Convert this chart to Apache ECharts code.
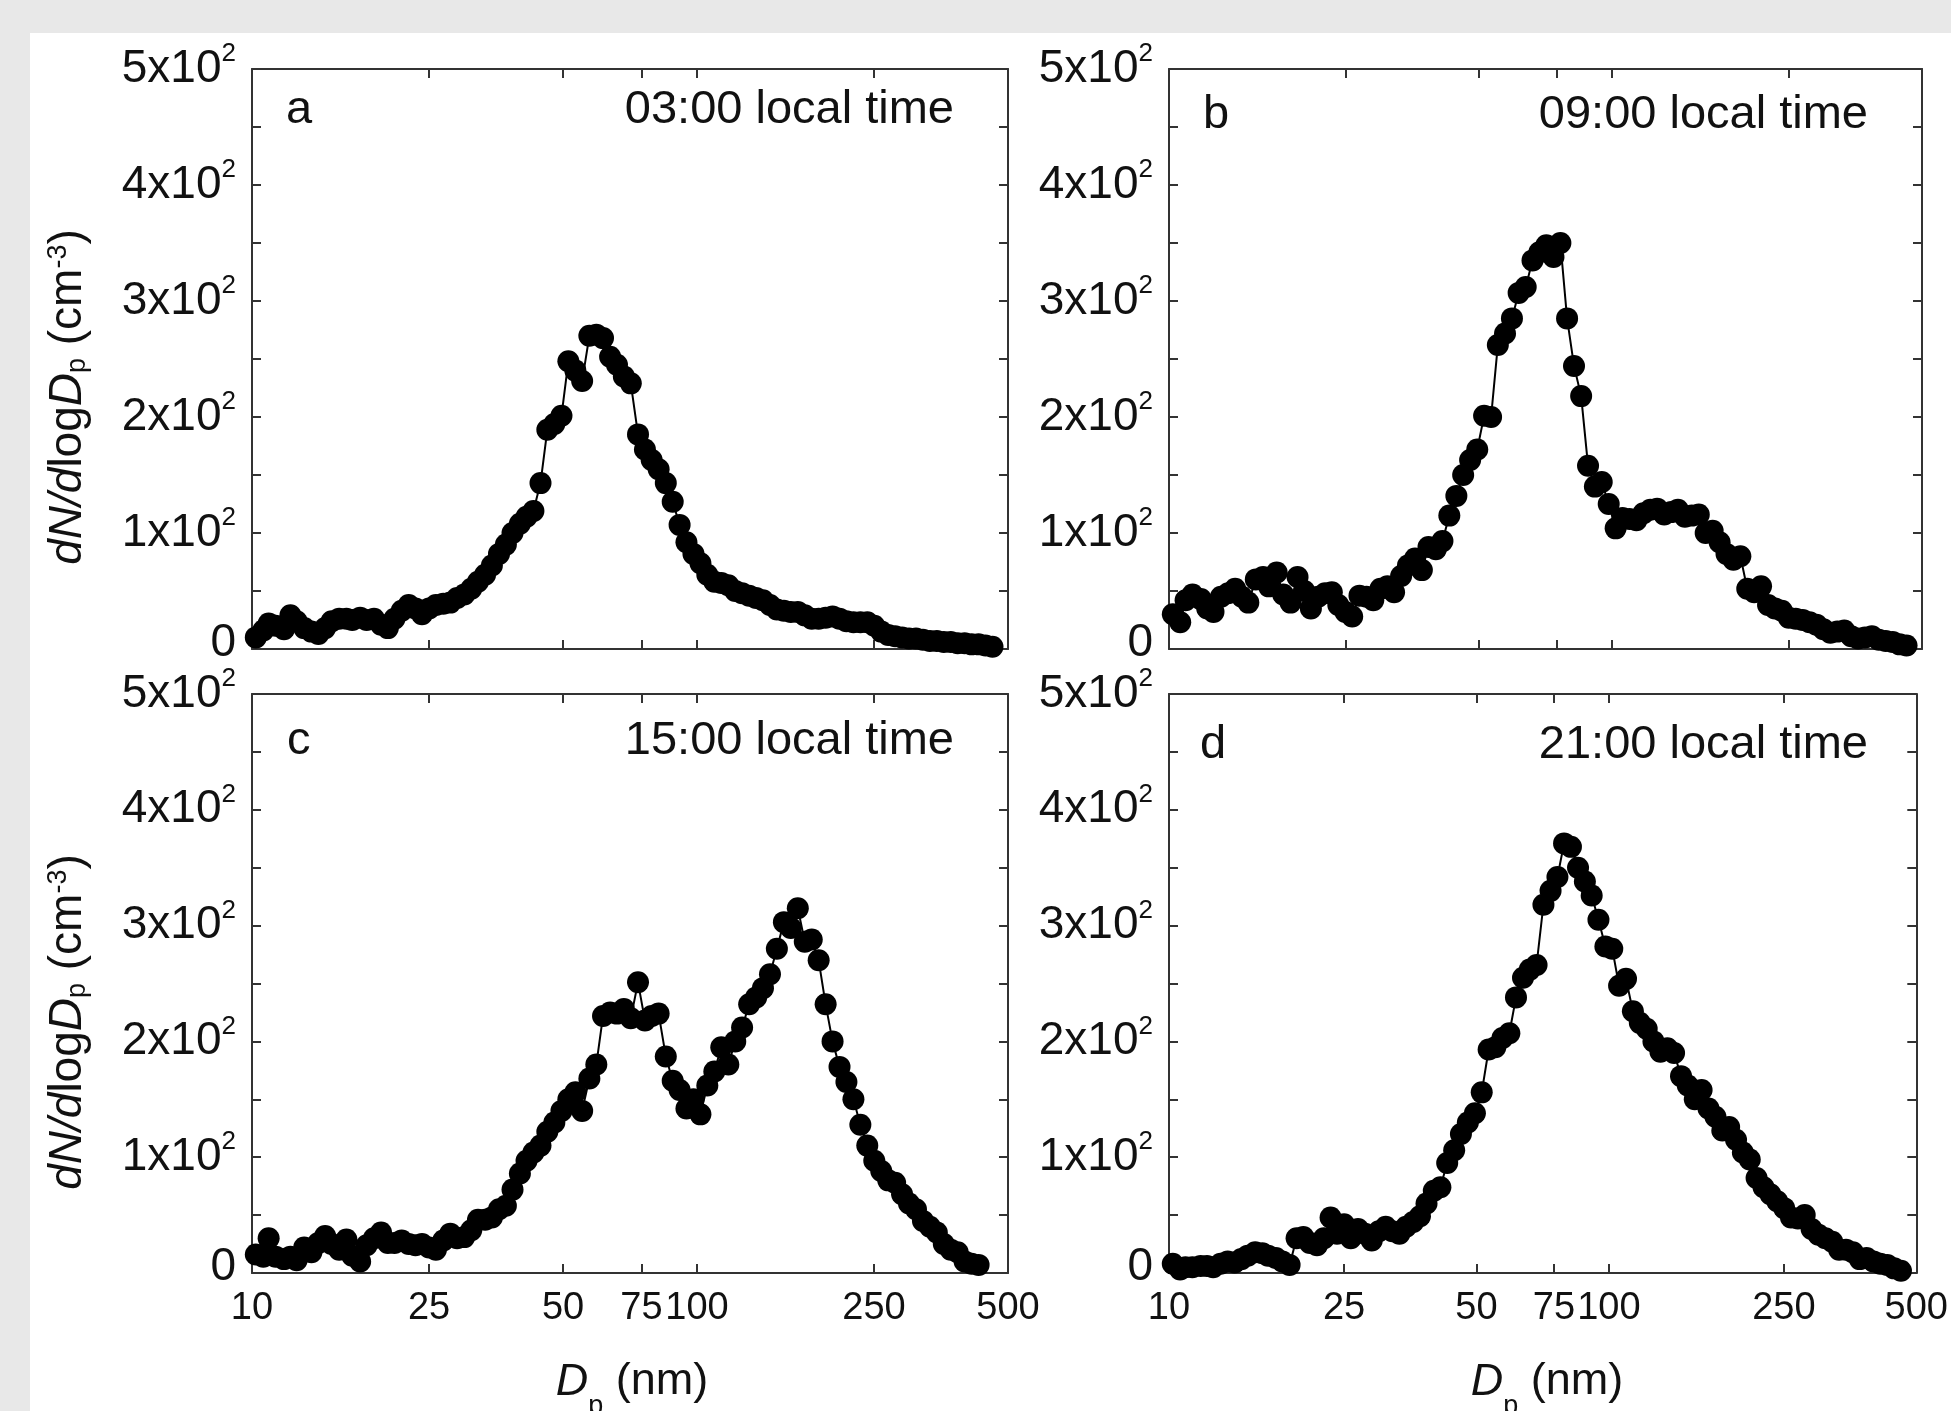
<!DOCTYPE html>
<html><head><meta charset="utf-8">
<script src="https://cdn.jsdelivr.net/npm/echarts@6/dist/echarts.min.js"></script>
<style>
html,body{margin:0;padding:0;background:#e8e8e8;width:1951px;height:1411px;overflow:hidden}
#c{position:absolute;left:30px;top:33px;width:1921px;height:1378px;background:#fff}
</style></head><body><div id="c"></div>
<script>
// particle mobility diameter channels (nm)
const diameterNm = [10.2,10.6,10.9,11.3,11.8,12.2,12.6,13.1,13.6,14.1,
14.6,15.1,15.7,16.3,16.8,17.5,18.1,18.8,19.5,20.2,
20.9,21.7,22.5,23.3,24.1,25.0,25.9,26.9,27.9,28.9,
30.0,31.1,32.2,33.4,34.6,35.9,37.2,38.5,40.0,41.4,
42.9,44.5,46.1,47.8,49.6,51.4,53.3,55.2,57.3,59.4,
61.5,63.8,66.1,68.5,71.0,73.7,76.4,79.1,82.0,85.1,
88.2,91.4,94.7,98.2,101.8,105.5,109.4,113.4,117.6,121.9,
126.3,131.0,135.8,140.7,145.9,151.2,156.8,162.5,168.5,174.7,
181.1,187.7,194.6,201.7,209.1,216.7,224.7,232.9,241.4,250.3,
259.5,269.0,278.8,289.0,299.6,310.6,322.0,333.8,346.0,358.7,
371.8,385.4,399.5,414.2,429.4,445.1,461.4];

// dN/dlogDp (cm^-3)
const conc0300 = [10,16,22,20,17,29,24,18,15,13, 18,24,26,26,25,27,25,26,21,18,
26,33,38,35,30,35,38,39,40,44, 47,52,58,64,72,82,90,100,108,114,
119,143,189,194,201,248,240,231,270,271, 268,252,245,235,229,185,172,163,155,143,
127,107,92,82,74,64,58,57,55,50, 48,46,44,42,38,34,33,32,32,29,
26,26,27,28,26,24,23,23,23,20, 15,12,11,10,9,9,8,7,7,6, 6,5,5,4,4,3,2];
const conc0900 = [30,23,42,47,43,35,32,45,48,52, 45,40,60,62,54,66,47,40,62,50,
35,45,48,49,38,32,28,46,45,42, 52,54,49,63,72,78,68,88,86,93,
115,132,150,163,172,201,200,262,272,285, 307,312,335,342,348,338,350,285,244,218,
158,140,144,125,104,113,112,111,117,120, 121,116,118,120,114,115,116,100,102,92,
82,77,80,52,49,54,38,35,33,27, 26,25,23,21,17,14,15,16,11,9, 10,11,8,7,6,4,3];
const conc1500 = [16,14,30,14,12,14,11,22,18,26, 32,25,20,29,15,10,24,30,35,26,
26,28,25,24,25,22,20,28,34,30, 31,37,46,46,48,55,58,72,86,97,
104,110,122,130,140,150,156,140,168,180, 222,225,224,228,220,251,218,222,224,187,
166,158,142,150,137,162,174,195,180,200, 212,232,238,246,258,280,303,298,315,286,
288,270,232,200,178,165,150,128,110,97, 88,80,78,68,60,55,45,40,35,25, 20,18,10,8,7];
const conc2100 = [8,3,5,5,6,6,5,8,10,9, 12,15,18,17,15,13,10,7,30,31,
26,24,30,48,34,42,30,38,34,28, 36,40,36,34,40,44,49,60,71,74,
95,106,120,130,138,156,193,195,203,207, 238,255,262,266,318,330,342,371,368,350,
338,326,305,282,280,248,254,226,216,211, 200,191,194,190,170,162,150,158,142,135,
123,126,115,104,98,82,74,68,62,56, 48,47,50,38,33,30,27,20,20,18, 12,13,10,8,7,4,2];

const xTickValues = [10,25,50,75,100,250,500];
const panelLetters = ['a','b','c','d'];
const panelTimes = ['03:00 local time','09:00 local time','15:00 local time','21:00 local time'];
const panelSeries = [conc0300, conc0900, conc1500, conc2100];

const FONT = '"Liberation Sans", Arial, Helvetica, sans-serif';
const INK = '#111';
const FRAME = '#333';

const grids = [
  {left:222, top:36, width:756, height:580},
  {left:1139, top:36, width:753, height:580},
  {left:222, top:661, width:756, height:579},
  {left:1139, top:661, width:753, height:579}
];
const annot = [
  {lx:256, rx:924, y:77},
  {lx:1173, rx:1838, y:82},
  {lx:257, rx:924, y:708},
  {lx:1170, rx:1838, y:712}
];

const LMIN = 1, LMAX = Math.log10(500);
const xTickLog = xTickValues.map(v => Math.log10(v));
const lineStyle = {color: FRAME, width: 2};

const xAxis = [], yAxis = [], series = [];
for (let k = 0; k < 4; k++) {
  xAxis.push({type:'log', logBase:10, min:10, max:500, gridIndex:k, show:false});
  xAxis.push({type:'value', gridIndex:k, position:'bottom', min:LMIN, max:LMAX,
    axisLine:{show:true, onZero:false, lineStyle},
    axisTick:{show:true, inside:true, length:9, customValues:xTickLog, lineStyle},
    axisLabel:{show:k>=2, customValues:xTickLog, margin:17, fontSize:38, fontFamily:FONT, color:INK,
      formatter: v => String(Math.round(Math.pow(10, v)))},
    splitLine:{show:false}});
  xAxis.push({type:'value', gridIndex:k, position:'top', min:LMIN, max:LMAX,
    axisLine:{show:true, onZero:false, lineStyle},
    axisTick:{show:true, inside:true, length:9, customValues:xTickLog, lineStyle},
    axisLabel:{show:false}, splitLine:{show:false}});
  yAxis.push({type:'value', gridIndex:k, position:'left', min:0, max:500, interval:50,
    axisLine:{show:true, onZero:false, lineStyle},
    axisTick:{show:true, inside:true, length:9, lineStyle},
    axisLabel:{show:true, margin:16, color:INK, fontFamily:FONT,
      formatter: v => {
        if (v % 100 !== 0) return '';
        if (v === 0) return '{z|0}';
        return '{m|' + (v/100) + 'x10}{s|2}';
      },
      rich:{
        m:{fontSize:46, lineHeight:56, fontFamily:FONT, color:INK},
        s:{fontSize:26, lineHeight:26, verticalAlign:'top', fontFamily:FONT, color:INK},
        z:{fontSize:46, fontFamily:FONT, color:INK, padding:[0,0,12,0]}
      }},
    splitLine:{show:false}});
  yAxis.push({type:'value', gridIndex:k, position:'right', min:0, max:500, interval:50,
    axisLine:{show:true, onZero:false, lineStyle},
    axisTick:{show:true, inside:true, length:9, lineStyle},
    axisLabel:{show:false}, splitLine:{show:false}});
  series.push({type:'line', xAxisIndex:3*k, yAxisIndex:2*k,
    data: panelSeries[k].map((v, i) => [diameterNm[i], v]),
    symbol:'circle', symbolSize:22, showSymbol:true,
    itemStyle:{color:'#000'}, lineStyle:{color:'#000', width:2},
    emphasis:{disabled:true}, animation:false, z:3});
}

const graphic = [];
for (let k = 0; k < 4; k++) {
  graphic.push({type:'text', x:annot[k].lx, y:annot[k].y,
    style:{text:panelLetters[k], font:'47px ' + FONT, fill:INK, align:'left', verticalAlign:'middle'}});
  graphic.push({type:'text', x:annot[k].rx, y:annot[k].y,
    style:{text:panelTimes[k], font:'47px ' + FONT, fill:INK, align:'right', verticalAlign:'middle'}});
}
const yNameRich = {
  i:{fontSize:46, fontStyle:'italic', fontFamily:FONT, fill:INK},
  n:{fontSize:46, fontFamily:FONT, fill:INK},
  sub:{fontSize:27, fontFamily:FONT, fill:INK, verticalAlign:'bottom', padding:[16,0,0,0]},
  sup:{fontSize:27, fontFamily:FONT, fill:INK, verticalAlign:'top'}
};
const yNameText = '{i|dN/d}{n|log}{i|D}{sub|p}{n| (cm}{sup|-3}{n|)}';
[{x:38, y:364}, {x:38, y:989}].forEach(p => graphic.push({type:'text', x:p.x, y:p.y, rotation:Math.PI/2,
  style:{text:yNameText, rich:yNameRich, font:'46px ' + FONT, fill:INK, align:'center', verticalAlign:'middle'}}));
const xNameRich = {
  i:{fontSize:45, fontStyle:'italic', fontFamily:FONT, fill:INK},
  n:{fontSize:45, fontFamily:FONT, fill:INK},
  sub:{fontSize:27, fontFamily:FONT, fill:INK, verticalAlign:'bottom', padding:[50,0,0,0]}
};
const xNameText = '{i|D}{sub|p}{n| (nm)}';
[{x:602, y:1349}, {x:1517, y:1349}].forEach(p => graphic.push({type:'text', x:p.x, y:p.y,
  style:{text:xNameText, rich:xNameRich, font:'45px ' + FONT, fill:INK, align:'center', verticalAlign:'middle'}}));

const chart = echarts.init(document.getElementById('c'), null, {renderer:'canvas'});
chart.setOption({
  animation:false,
  backgroundColor:'#fff',
  grid: grids.map(g => Object.assign({containLabel:false}, g)),
  xAxis, yAxis, series, graphic
});
</script></body></html>
